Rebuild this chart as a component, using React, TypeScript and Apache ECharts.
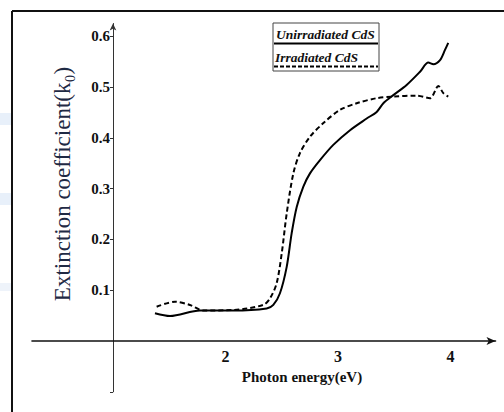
import React, { useEffect, useRef } from "react";
import * as echarts from "echarts";

const unirradiatedX = [1.373, 1.507, 1.773, 2.07, 2.366, 2.425, 2.484, 2.544, 2.588, 2.633, 2.692, 2.751, 2.84, 2.958, 3.107, 3.255, 3.344, 3.403, 3.492, 3.61, 3.729, 3.803, 3.848, 3.907, 3.951, 3.98];
const unirradiatedY = [0.0545, 0.049, 0.06, 0.06, 0.064, 0.071, 0.094, 0.146, 0.212, 0.264, 0.304, 0.33, 0.356, 0.386, 0.415, 0.438, 0.451, 0.468, 0.484, 0.504, 0.53, 0.548, 0.545, 0.553, 0.573, 0.587];

const irradiatedX = [1.388, 1.551, 1.684, 1.803, 2.07, 2.336, 2.396, 2.455, 2.5, 2.544, 2.603, 2.662, 2.751, 2.87, 3.018, 3.166, 3.344, 3.492, 3.699, 3.818, 3.892, 3.936, 3.98];
const irradiatedY = [0.0675, 0.0774, 0.0709, 0.06, 0.061, 0.071, 0.084, 0.114, 0.173, 0.251, 0.33, 0.37, 0.402, 0.429, 0.455, 0.468, 0.478, 0.481, 0.483, 0.478, 0.502, 0.488, 0.481];

const xTickLabels = [2, 3, 4];
const yTickLabels = [0.1, 0.2, 0.3, 0.4, 0.5, 0.6];
const yTickMarks = [-0.1, 0.1, 0.2, 0.3, 0.4, 0.5, 0.6];

const seriesNames = ["Unirradiated CdS", "Irradiated CdS"];
const xTitle = "Photon energy(eV)";
const yTitle = "Extinction coefficient(k\u2080)";

export default function App() {
  const ref = useRef<HTMLDivElement>(null);
  useEffect(() => {
    if (!ref.current) return;
    const chart = echarts.init(ref.current, null, { renderer: "svg" });
    const serif = "Liberation Serif";
    const zip = (xs: number[], ys: number[]) => xs.map((x, i) => [x, ys[i]]);
    chart.setOption({
      animation: false,
      backgroundColor: "#ffffff",
      textStyle: { fontFamily: serif },
      grid: { left: 32, right: 8.5, top: 23.5, bottom: 20.2 },
      xAxis: {
        type: "value",
        min: 0.28,
        max: 4.4,
        splitLine: { show: false },
        axisLine: {
          onZero: true,
          symbol: ["none", "arrow"],
          symbolSize: [6, 9],
          lineStyle: { color: "#111", width: 1.6 },
        },
        axisTick: { show: false },
        axisLabel: {
          customValues: xTickLabels,
          fontFamily: serif,
          fontWeight: "bold",
          fontSize: 16,
          color: "#111",
          margin: -43,
        },
      },
      yAxis: {
        type: "value",
        min: -0.1,
        max: 0.625,
        offset: -81,
        splitLine: { show: false },
        axisLine: {
          onZero: false,
          symbol: ["none", "arrow"],
          symbolSize: [5, 7],
          lineStyle: { color: "#333", width: 1 },
        },
        axisTick: {
          customValues: yTickMarks,
          length: 3,
          lineStyle: { color: "#333" },
        },
        axisLabel: {
          customValues: yTickLabels,
          fontFamily: serif,
          fontWeight: "bold",
          fontSize: 15,
          color: "#111",
          margin: 3,
        },
      },
      series: [
        {
          name: seriesNames[0],
          type: "line",
          data: zip(unirradiatedX, unirradiatedY),
          smooth: 0.3,
          showSymbol: false,
          lineStyle: { color: "#000", width: 2 },
        },
        {
          name: seriesNames[1],
          type: "line",
          data: zip(irradiatedX, irradiatedY),
          smooth: 0.3,
          showSymbol: false,
          lineStyle: { color: "#000", width: 2, type: [5, 3] },
        },
      ],
      graphic: [
        { type: "rect", shape: { x: 0, y: 113, width: 12, height: 12 }, style: { fill: "#e8f0fa" } },
        { type: "rect", shape: { x: 0, y: 193, width: 12, height: 12 }, style: { fill: "#e8f0fa" } },
        { type: "rect", shape: { x: 0, y: 283, width: 12, height: 8 }, style: { fill: "#eef3fa" } },
        { type: "line", shape: { x1: 12, y1: 11, x2: 504, y2: 11 }, style: { stroke: "#111", lineWidth: 2 } },
        { type: "line", shape: { x1: 12, y1: 11, x2: 12, y2: 412 }, style: { stroke: "#111", lineWidth: 2 } },
        {
          type: "text",
          x: 62,
          y: 184,
          rotation: Math.PI / 2,
          style: {
            text: yTitle,
            fontFamily: serif,
            fontSize: 23,
            fill: "#1f2a44",
            align: "center",
            verticalAlign: "middle",
          },
        },
        {
          type: "text",
          x: 302,
          y: 377,
          style: {
            text: xTitle,
            fontFamily: serif,
            fontWeight: "bold",
            fontSize: 15,
            fill: "#111",
            align: "center",
            verticalAlign: "middle",
          },
        },
        {
          type: "rect",
          shape: { x: 273, y: 23, width: 106, height: 48 },
          style: { fill: "#fff", stroke: "#444", lineWidth: 1 },
        },
        {
          type: "text",
          x: 276,
          y: 34,
          style: {
            text: seriesNames[0],
            fontFamily: serif,
            fontStyle: "italic",
            fontWeight: "bold",
            fontSize: 13.5,
            fill: "#111",
            align: "left",
            verticalAlign: "middle",
          },
        },
        { type: "line", shape: { x1: 274, y1: 43.5, x2: 378, y2: 43.5 }, style: { stroke: "#000", lineWidth: 2 } },
        {
          type: "text",
          x: 275,
          y: 57,
          style: {
            text: seriesNames[1],
            fontFamily: serif,
            fontStyle: "italic",
            fontWeight: "bold",
            fontSize: 13.5,
            fill: "#111",
            align: "left",
            verticalAlign: "middle",
          },
        },
        {
          type: "line",
          shape: { x1: 274, y1: 66.5, x2: 378, y2: 66.5 },
          style: { stroke: "#000", lineWidth: 2, lineDash: [4, 2] },
        },
      ],
    });
    return () => chart.dispose();
  }, []);
  return (
    <div
      ref={ref}
      style={{ position: "absolute", left: 0, top: 0, width: 504, height: 412 }}
    />
  );
}
